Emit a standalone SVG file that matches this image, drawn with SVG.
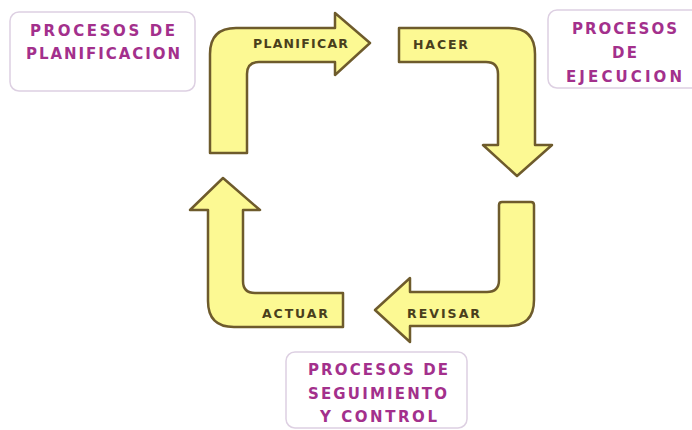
<svg xmlns="http://www.w3.org/2000/svg" width="692" height="430" viewBox="0 0 692 430">
<style>
.arrow{fill:#fcf993;stroke:#6e5b2c;stroke-width:2.5;stroke-linejoin:round}
.box{fill:#ffffff;stroke:#ddd0e2;stroke-width:1.5}
.lbl{font-family:"DejaVu Sans","Liberation Sans",sans-serif;font-weight:bold;font-size:12.5px;fill:#4a3f1c}
.btx{font-family:"DejaVu Sans","Liberation Sans",sans-serif;font-weight:bold;font-size:15px;fill:#a3308c}
</style>
<rect width="692" height="430" fill="#ffffff"/>
<g id="box-planificacion">
<rect class="box" x="10" y="12" width="185" height="79" rx="9"/>
<text class="btx" x="30" y="36" textLength="145" lengthAdjust="spacing">PROCESOS DE</text>
<text class="btx" x="26" y="59" textLength="154" lengthAdjust="spacing">PLANIFICACION</text>
</g>
<g id="box-ejecucion">
<rect class="box" x="548" y="10" width="160" height="78" rx="9"/>
<text class="btx" x="572" y="34" textLength="105" lengthAdjust="spacing">PROCESOS</text>
<text class="btx" x="612" y="58" textLength="25" lengthAdjust="spacing">DE</text>
<text class="btx" x="566" y="82" textLength="116" lengthAdjust="spacing">EJECUCION</text>
</g>
<g id="box-seguimiento">
<rect class="box" x="286" y="352" width="181" height="76" rx="9"/>
<text class="btx" x="308" y="375" textLength="140" lengthAdjust="spacing">PROCESOS DE</text>
<text class="btx" x="308" y="399" textLength="139" lengthAdjust="spacing">SEGUIMIENTO</text>
<text class="btx" x="320" y="422" textLength="117" lengthAdjust="spacing">Y CONTROL</text>
</g>
<g id="connectors">
<g id="planificar">
<path class="arrow" d="M210,153 L210,54 Q210,28 236,28 L335,28 L335,13 L370,43 L335,75 L335,62 L259,62 Q247,62 247,74 L247,153 Z"/>
<text class="lbl" x="253" y="48" textLength="95" lengthAdjust="spacing">PLANIFICAR</text>
</g>
<g id="hacer">
<path class="arrow" d="M399,28 L509,28 Q535,28 535,54 L535,145 L552,145 L517,176 L483,145 L498,145 L498,74 Q498,62 486,62 L399,62 Z"/>
<text class="lbl" x="413" y="49" textLength="55" lengthAdjust="spacing">HACER</text>
</g>
<g id="revisar">
<path class="arrow" d="M502,202 L531,202 Q534,202 534,205 L534,300 Q534,326 508,326 L410,326 L410,342 L375,310 L410,278 L410,292 L487,292 Q499,292 499,280 L499,205 Q499,202 502,202 Z"/>
<text class="lbl" x="407" y="318" textLength="73" lengthAdjust="spacing">REVISAR</text>
</g>
<g id="actuar">
<path class="arrow" d="M343,293 L343,327 L234,327 Q208,327 208,301 L208,210 L190,210 L223,178 L260,210 L243,210 L243,281 Q243,293 255,293 Z"/>
<text class="lbl" x="262" y="318" textLength="66" lengthAdjust="spacing">ACTUAR</text>
</g>
</g>
</svg>
